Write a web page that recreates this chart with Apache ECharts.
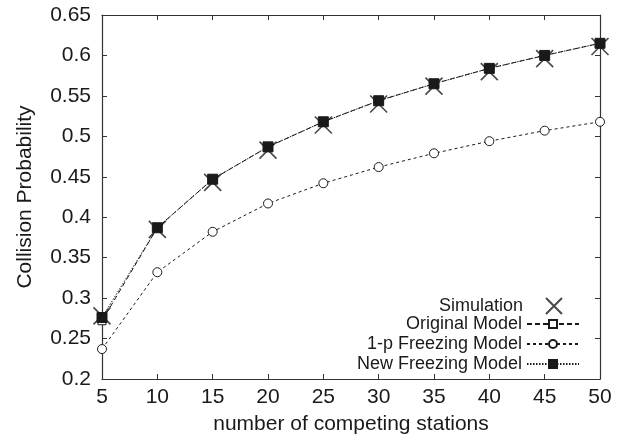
<!DOCTYPE html>
<html>
<head>
<meta charset="utf-8">
<script src="https://cdn.jsdelivr.net/npm/echarts@6/dist/echarts.min.js"></script>
<style>
  html, body { margin: 0; padding: 0; background: #fff; }
  #chart { width: 626px; height: 440px; }
</style>
</head>
<body>
<div id="chart"></div>
<script>
// datos
const estaciones = [5, 10, 15, 20, 25, 30, 35, 40, 45, 50];
const simulacion = [0.278, 0.385, 0.443, 0.483, 0.514, 0.540, 0.562, 0.580, 0.596, 0.611];
const modeloOriginal = [0.272, 0.387, 0.447, 0.487, 0.518, 0.544, 0.565, 0.584, 0.600, 0.615];
const modeloUnoMenosP = [0.237, 0.332, 0.382, 0.417, 0.442, 0.462, 0.479, 0.494, 0.507, 0.518];
const modeloNuevo = [0.276, 0.387, 0.447, 0.487, 0.518, 0.544, 0.565, 0.584, 0.600, 0.615];

const fuente = "'Liberation Sans', Arial, sans-serif";
const negro = '#1a1a1a';

const pares = arr => estaciones.map((x, i) => [x, arr[i]]);

const chart = echarts.init(document.getElementById('chart'));

const ejeComun = {
  axisLine: { show: true, lineStyle: { color: '#333', width: 1.2 } },
  axisTick: { show: true, inside: true, length: 5, lineStyle: { color: '#333' } },
  splitLine: { show: false }
};

const leyendaComun = {
  orient: 'vertical',
  align: 'right',
  itemWidth: 52,
  itemGap: 2,
  textStyle: { fontSize: 18, color: negro, fontFamily: fuente }
};

const option = {
  animation: false,
  textStyle: { fontFamily: fuente },
  grid: { left: 102, right: 26, top: 15, bottom: 61 },
  xAxis: [
    Object.assign({
      type: 'value', min: 5, max: 50, interval: 5,
      name: 'number of competing stations',
      nameLocation: 'middle', nameGap: 35,
      nameTextStyle: { fontSize: 21, color: negro, fontFamily: fuente },
      axisLabel: { fontSize: 21, color: negro, margin: 8, fontFamily: fuente }
    }, ejeComun),
    Object.assign({
      type: 'value', min: 5, max: 50, interval: 5, position: 'top',
      axisLabel: { show: false }
    }, ejeComun)
  ],
  yAxis: [
    Object.assign({
      type: 'value', min: 0.2, max: 0.65, interval: 0.05,
      name: 'Collision Probability',
      nameLocation: 'middle', nameGap: 66,
      nameTextStyle: { fontSize: 21, color: negro, fontFamily: fuente },
      axisLabel: {
        fontSize: 21, color: negro, margin: 11, fontFamily: fuente,
        formatter: v => String(+v.toFixed(2))
      }
    }, ejeComun),
    Object.assign({
      type: 'value', min: 0.2, max: 0.65, interval: 0.05, position: 'right',
      axisLabel: { show: false }
    }, ejeComun)
  ],
  legend: [
    Object.assign({
      top: 292,
      right: 58,
      itemHeight: 16,
      data: ['Simulation']
    }, leyendaComun),
    Object.assign({
      top: 310,
      right: 41,
      itemHeight: 10,
      data: ['Original Model', '1-p Freezing Model', 'New Freezing Model']
    }, leyendaComun)
  ],
  series: [
    {
      name: 'Original Model',
      type: 'line',
      data: pares(modeloOriginal),
      symbol: 'rect',
      symbolSize: 8,
      lineStyle: { color: negro, width: 1, type: [5, 3] },
      itemStyle: { color: '#fff', borderColor: negro, borderWidth: 1 },
      z: 2
    },
    {
      name: '1-p Freezing Model',
      type: 'line',
      data: pares(modeloUnoMenosP),
      symbol: 'circle',
      symbolSize: 9,
      lineStyle: { color: negro, width: 1, type: [3, 3] },
      itemStyle: { color: '#fff', borderColor: negro, borderWidth: 1 },
      z: 2
    },
    {
      name: 'New Freezing Model',
      type: 'line',
      data: pares(modeloNuevo),
      symbol: 'rect',
      symbolSize: 10,
      lineStyle: { color: negro, width: 1, type: [1.5, 1.5] },
      itemStyle: { color: negro, borderColor: negro, borderWidth: 1 },
      z: 3
    },
    {
      name: 'Simulation',
      type: 'scatter',
      data: pares(simulacion),
      symbol: 'path://M0,0L10,10M10,0L0,10',
      symbolSize: 17,
      itemStyle: { color: 'rgba(0,0,0,0)', borderColor: negro, borderWidth: 1.6 },
      z: 4
    }
  ]
};

chart.setOption(option);
</script>
</body>
</html>
